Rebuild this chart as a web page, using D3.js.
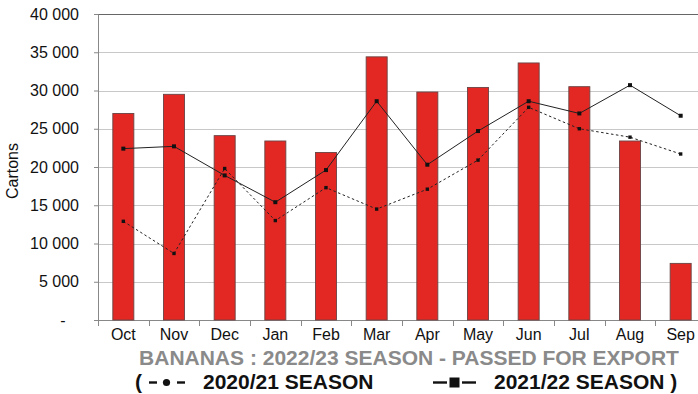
<!DOCTYPE html>
<html>
<head>
<meta charset="utf-8">
<script src="https://cdn.jsdelivr.net/npm/d3@7/dist/d3.min.js"></script>
<style>
  html, body { margin: 0; padding: 0; background: #fff; }
  svg { display: block; font-family: "Liberation Sans", Arial, Helvetica, sans-serif; }
</style>
</head>
<body>
<svg id="chart" width="698" height="394"></svg>
<script>
// Monthly banana cartons passed for export, by season (Oct–Sep)
const months = ["Oct", "Nov", "Dec", "Jan", "Feb", "Mar", "Apr", "May", "Jun", "Jul", "Aug", "Sep"];
const season2223 = [27000, 29500, 24100, 23400, 21900, 34400, 29800, 30400, 33600, 30500, 23400, 7400];
const season2122 = [22400, 22700, 18900, 15400, 19600, 28600, 20300, 24700, 28600, 27000, 30700, 26700];
const season2021 = [12900, 8700, 19800, 13000, 17300, 14500, 17100, 20900, 27800, 25000, 23900, 21700];
const yTicks = [0, 5000, 10000, 15000, 20000, 25000, 30000, 35000, 40000];

const svg = d3.select("#chart");
const W = 698, H = 394;
const margin = { left: 98, top: 14 };
const plotW = 608, plotH = 306;

const x = d3.scaleBand().domain(months).range([margin.left, margin.left + plotW]).paddingInner(0.585).paddingOuter(0.2925);
const xb = d3.scaleBand().domain(months).range([margin.left, margin.left + plotW]);
const y = d3.scaleLinear().domain([0, 40000]).range([margin.top + plotH, margin.top]);

// horizontal gridlines
svg.append("g")
  .selectAll("line")
  .data(yTicks.filter(d => d > 0 && d < 40000))
  .join("line")
  .attr("x1", margin.left).attr("x2", W)
  .attr("y1", d => Math.round(y(d)) + 0.5).attr("y2", d => Math.round(y(d)) + 0.5)
  .attr("stroke", "#c8c8c8").attr("stroke-width", 1.2);

// top frame line
svg.append("line")
  .attr("x1", margin.left).attr("x2", W)
  .attr("y1", margin.top + 0.5).attr("y2", margin.top + 0.5)
  .attr("stroke", "#666").attr("stroke-width", 1.2);

// y axis
const fmt = d => d === 0 ? "-\u00a0\u00a0\u00a0" : d3.format(",")(d).replace(/,/g, " ");
const yAxis = svg.append("g")
  .attr("transform", `translate(${margin.left},0)`)
  .call(d3.axisLeft(y).tickValues(yTicks).tickSize(4).tickPadding(15).tickFormat(fmt));
yAxis.select(".domain").attr("stroke", "#888");
yAxis.selectAll(".tick line").attr("stroke", "#888");
yAxis.selectAll(".tick text").attr("font-size", 16).attr("fill", "#111")
  .attr("font-family", "'Liberation Sans', Arial, sans-serif");

// x axis with ticks at category boundaries
const xAxisG = svg.append("g")
  .attr("transform", `translate(0,${margin.top + plotH})`);
xAxisG.append("line")
  .attr("x1", margin.left - 4).attr("x2", W)
  .attr("y1", 0.5).attr("y2", 0.5)
  .attr("stroke", "#888");
xAxisG.selectAll("line.tk")
  .data(months)
  .join("line")
  .attr("class", "tk")
  .attr("x1", d => Math.round(xb(d)) + 0.5).attr("x2", d => Math.round(xb(d)) + 0.5)
  .attr("y1", 0).attr("y2", 6)
  .attr("stroke", "#888");
xAxisG.selectAll("text")
  .data(months)
  .join("text")
  .attr("x", d => x(d) + x.bandwidth() / 2)
  .attr("y", 20)
  .attr("text-anchor", "middle")
  .attr("font-size", 16)
  .attr("fill", "#111")
  .text(d => d);

// bars: 2022/23 season
svg.append("g")
  .selectAll("rect")
  .data(months.map((m, i) => ({ m, v: season2223[i] })))
  .join("rect")
  .attr("x", d => x(d.m))
  .attr("y", d => y(d.v))
  .attr("width", x.bandwidth())
  .attr("height", d => y(0) - y(d.v))
  .attr("fill", "#e32824")
  .attr("stroke", "#6a4444")
  .attr("stroke-width", 0.9);

const cx = m => x(m) + x.bandwidth() / 2;
const line = d3.line().x(d => cx(d.m)).y(d => y(d.v));

// 2020/21 season: dashed line with dot markers
const d2021 = months.map((m, i) => ({ m, v: season2021[i] }));
svg.append("path")
  .datum(d2021)
  .attr("d", line)
  .attr("fill", "none")
  .attr("stroke", "#222")
  .attr("stroke-width", 1)
  .attr("stroke-dasharray", "2.5,2.5");
svg.append("g")
  .selectAll("rect")
  .data(d2021)
  .join("rect")
  .attr("x", d => cx(d.m) - 1.7).attr("y", d => y(d.v) - 1.7)
  .attr("width", 3.4).attr("height", 3.4)
  .attr("fill", "#111");

// 2021/22 season: solid line with square markers
const d2122 = months.map((m, i) => ({ m, v: season2122[i] }));
svg.append("path")
  .datum(d2122)
  .attr("d", line)
  .attr("fill", "none")
  .attr("stroke", "#222")
  .attr("stroke-width", 1);
svg.append("g")
  .selectAll("rect")
  .data(d2122)
  .join("rect")
  .attr("x", d => cx(d.m) - 2).attr("y", d => y(d.v) - 2)
  .attr("width", 4).attr("height", 4)
  .attr("fill", "#111");

// y axis title
svg.append("text")
  .attr("transform", `translate(18,171) rotate(-90)`)
  .attr("text-anchor", "middle")
  .attr("font-size", 16)
  .attr("fill", "#111")
  .text("Cartons");

// chart title
svg.append("text")
  .attr("x", 409).attr("y", 365)
  .attr("text-anchor", "middle")
  .attr("font-size", 21)
  .attr("font-weight", "bold")
  .attr("fill", "#8a8a8a")
  .text("BANANAS : 2022/23 SEASON - PASSED FOR EXPORT");

// legend line
const legY = 389, symY = 382.5;
const leg = svg.append("g").attr("font-size", 21).attr("font-weight", "bold").attr("fill", "#111");
leg.append("text").attr("x", 135).attr("y", legY).text("(");
// dashed-series symbol: – • –
leg.append("rect").attr("x", 149).attr("y", symY - 1.2).attr("width", 8).attr("height", 2.4);
leg.append("circle").attr("cx", 166.5).attr("cy", symY).attr("r", 3.6);
leg.append("rect").attr("x", 177).attr("y", symY - 1.2).attr("width", 8).attr("height", 2.4);
leg.append("text").attr("x", 203).attr("y", legY).text("2020/21 SEASON");
// solid-series symbol: —■—
leg.append("rect").attr("x", 433).attr("y", symY - 1.2).attr("width", 14).attr("height", 2.4);
leg.append("rect").attr("x", 449.5).attr("y", symY - 5).attr("width", 10).attr("height", 10);
leg.append("rect").attr("x", 462).attr("y", symY - 1.2).attr("width", 14).attr("height", 2.4);
leg.append("text").attr("x", 494).attr("y", legY).text("2021/22 SEASON )");
</script>
</body>
</html>
